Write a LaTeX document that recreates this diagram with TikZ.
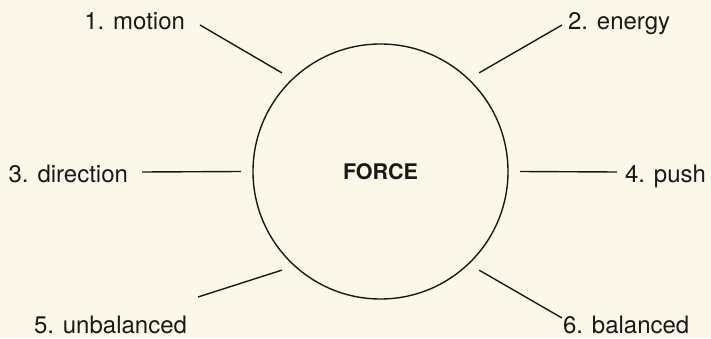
\documentclass[tikz,border=0pt]{standalone}
\usepackage{fontspec}
\setmainfont{TeX Gyre Heros}
\usepackage{tikz}
\definecolor{paper}{RGB}{251,247,233}
\definecolor{ink}{RGB}{25,25,25}
\tikzstyle{term}=[font=\fontsize{24}{28}\selectfont, inner sep=0pt, outer sep=0pt, text=ink]
\tikzstyle{hub}=[draw=ink, circle, line width=1.4pt, minimum size=255pt, inner sep=0pt, outer sep=12pt, text=ink, font=\fontsize{21.5}{24}\selectfont\bfseries]
\tikzstyle{spoke}=[draw=ink, line width=1.4pt]

\begin{document}
\begin{tikzpicture}[x=1pt,y=1pt]
\fill[paper] (0,0) rectangle (711,338);
\useasboundingbox (0,0) rectangle (711,338);
\node[hub] (force) at (380.5,166.5) {FORCE};
\node[term, anchor=base east] (motion) at (185,308) {1. motion};
\node[term, anchor=base west] (energy) at (568,308) {2. energy};
\node[term, anchor=base east] (direction) at (128,156) {3. direction};
\node[term, anchor=base west] (push) at (625,156) {4. push};
\node[term, anchor=base east] (unbal) at (187,5) {5. unbalanced};
\node[term, anchor=base west] (bal) at (563,5) {6. balanced};
\draw[spoke] ([shift={(15,5)}]motion.base east) -- (force.135);
\draw[spoke] ([shift={(-6,5)}]energy.base west) -- (force.45);
\draw[spoke] ([shift={(14,10)}]direction.base east) -- (force.180);
\draw[spoke] ([shift={(-8,10)}]push.base west) -- (force.0);
\draw[spoke] ([shift={(11,36)}]unbal.base east) -- (force.225);
\draw[spoke] ([shift={(-1,15)}]bal.base west) -- (force.315);
\end{tikzpicture}
\end{document}
